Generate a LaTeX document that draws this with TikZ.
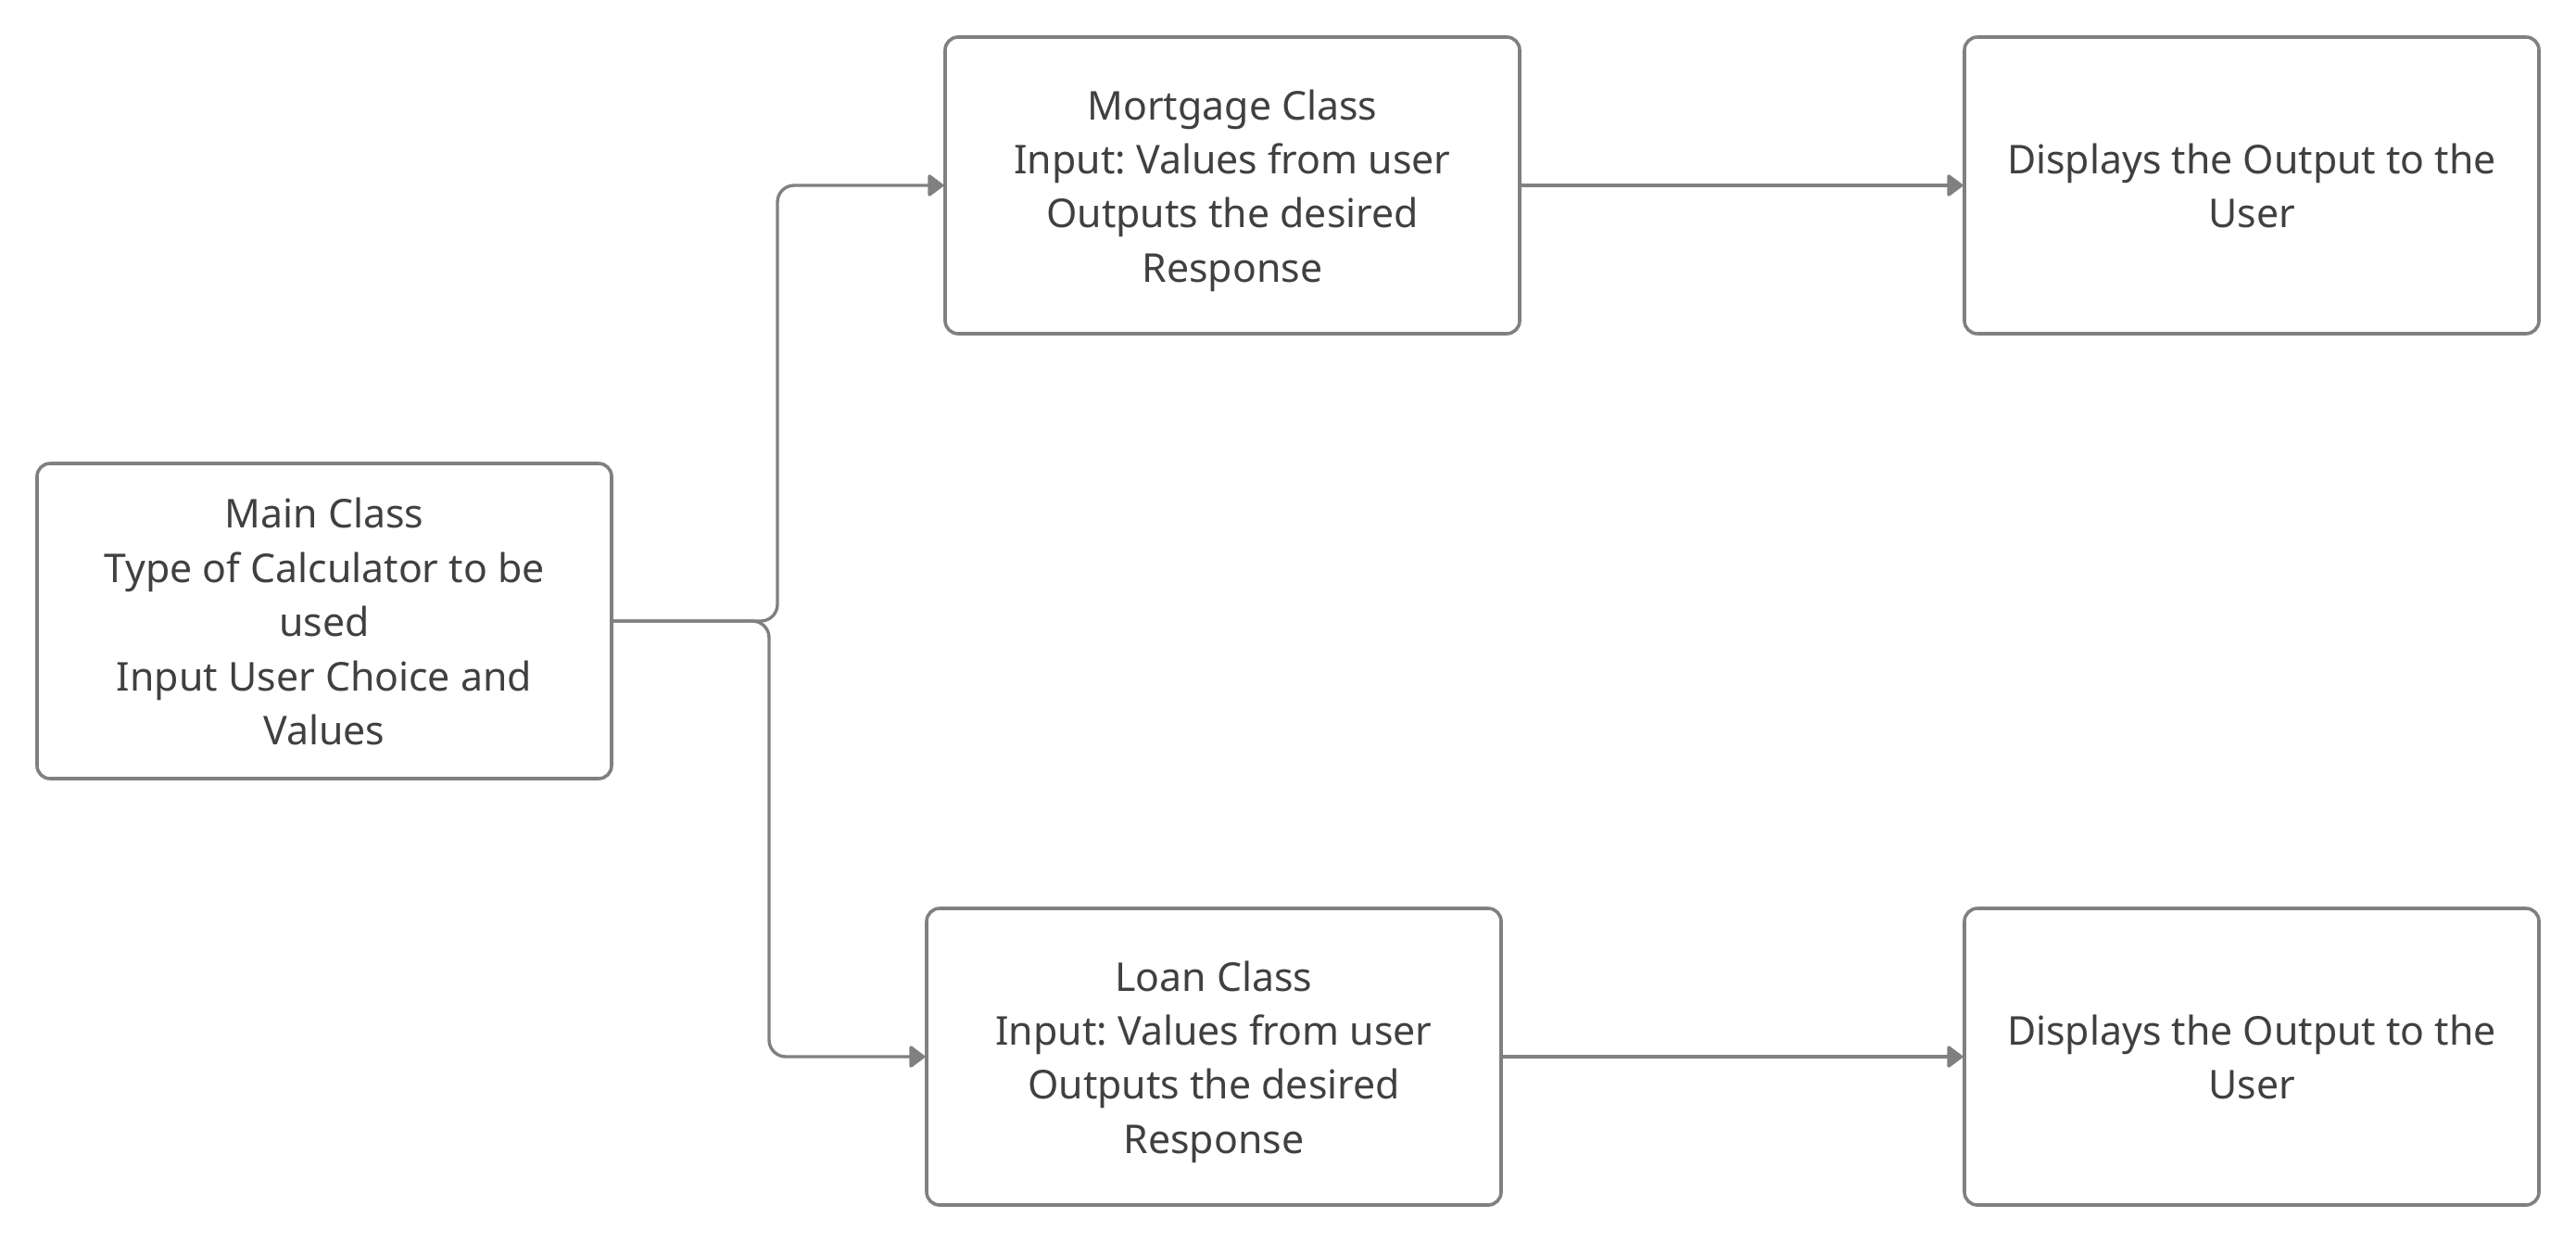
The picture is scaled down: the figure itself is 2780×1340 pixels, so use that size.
\documentclass[tikz,border=0pt]{standalone}
\usepackage{fontspec}
\setmainfont{Noto Sans}
\frenchspacing
\usetikzlibrary{arrows.meta}
\definecolor{linegray}{HTML}{808080}
\definecolor{textgray}{HTML}{404040}
\newcommand{\lst}{\rule[-6.3pt]{0pt}{29.2pt}}
\begin{document}
\begin{tikzpicture}[x=0.5pt,y=-0.5pt,
  boxstyle/.style={draw=linegray, line width=1.8pt, rounded corners=7pt, rectangle,
    minimum width=310pt, minimum height=160pt, align=center, text=textgray,
    font=\fontsize{21.4}{29.2}\selectfont, inner sep=0pt},
  conn/.style={draw=linegray, line width=1.7pt, rounded corners=9pt,
    -{Triangle[length=9pt,width=13pt,round]}}]
\useasboundingbox (0,0) rectangle (2780,1340);
\node[boxstyle, minimum height=170pt] (main) at (350,670) {\lst Main Class\\\lst Type of Calculator to be\\\lst used\\\lst Input User Choice and\\\lst Values};
\node[boxstyle] (mort) at (1330,200) {\lst Mortgage Class\\\lst Input: Values from user\\\lst Outputs the desired\\\lst Response};
\node[boxstyle] (loan) at (1310,1140) {\lst Loan Class\\\lst Input: Values from user\\\lst Outputs the desired\\\lst Response};
\node[boxstyle] (disp1) at (2430,200) {\lst Displays the Output to the\\\lst User};
\node[boxstyle] (disp2) at (2430,1140) {\lst Displays the Output to the\\\lst User};
\coordinate (j1) at (839,200);
\coordinate (j2) at (830,1140);
\draw[conn] (main.east) -| (j1) -- (mort.west);
\draw[conn] (main.east) -| (j2) -- (loan.west);
\draw[conn] (mort.east) -- (disp1.west);
\draw[conn] (loan.east) -- (disp2.west);
\end{tikzpicture}
\end{document}
